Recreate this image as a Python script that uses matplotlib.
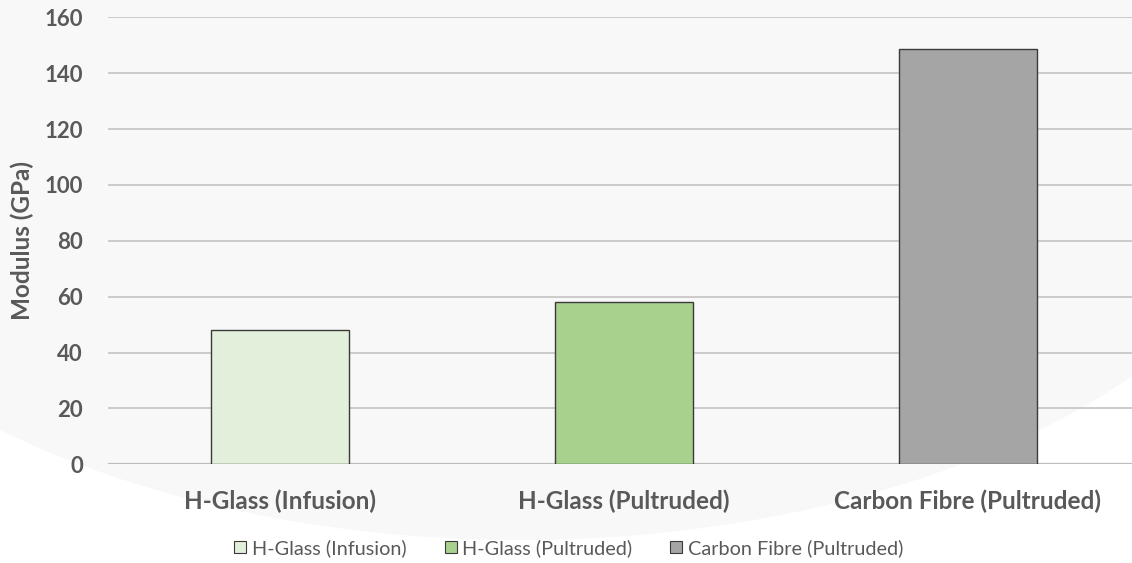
import matplotlib
matplotlib.use("Agg")
import matplotlib.pyplot as plt
from matplotlib.patches import Ellipse, Patch

categories = ["H-Glass (Infusion)", "H-Glass (Pultruded)", "Carbon Fibre (Pultruded)"]
modulus = [48, 58, 148.5]
bar_colors = ["#e2efda", "#a9d18e", "#a5a5a5"]
y_ticks = [0, 20, 40, 60, 80, 100, 120, 140, 160]

W, H, DPI = 1132, 563, 100
fig = plt.figure(figsize=(W / DPI, H / DPI), dpi=DPI, facecolor="white")

# soft grey backdrop shape
bg = Ellipse((520 / W, 463 / H), 1572 / W, 880 / H, transform=fig.transFigure,
             facecolor="#f8f8f8", edgecolor="none", zorder=-10)
fig.patches.append(bg)

ax = fig.add_axes([108 / W, 98.7 / H, 1032 / W, 447 / H])
ax.set_facecolor("none")

x = range(len(categories))
ax.bar(x, modulus, width=0.4, color=bar_colors, edgecolor="#3a3a3a",
       linewidth=1.0, zorder=3)

ax.set_xlim(-0.5, 2.5)
ax.set_ylim(0, 160)
ax.set_yticks(y_ticks)
ax.grid(axis="y", color="#cbcbcb", linewidth=1.4, zorder=0)
ax.axhline(0, color="#bdbdbd", linewidth=1.6, zorder=2)
for s in ax.spines.values():
    s.set_visible(False)

txt = "#595959"
ax.set_xticks(list(x))
ax.set_xticklabels(categories)
ax.tick_params(axis="both", length=0, colors=txt)
ax.tick_params(axis="y", pad=18)
ax.tick_params(axis="x", pad=18)
for lab in ax.get_yticklabels():
    lab.set_fontfamily("Lato")
    lab.set_fontweight("bold")
    lab.set_fontsize(16)
for lab in ax.get_xticklabels():
    lab.set_fontfamily("Lato")
    lab.set_fontweight("bold")
    lab.set_fontsize(17.5)

fig.text(22 / W, 1 - 241 / H, "Modulus (GPa)", rotation=90, ha="center",
         va="center", color=txt, fontfamily="Lato", fontweight="bold",
         fontsize=17.5)

handles = [Patch(facecolor=c, edgecolor="#3a3a3a", linewidth=0.8) for c in bar_colors]
fig.legend(handles, categories, loc="center", bbox_to_anchor=(569 / W, 1 - 548 / H),
           ncol=3, frameon=False, handlelength=0.6, handleheight=0.6,
           handletextpad=0.3, columnspacing=1.9,
           prop={"family": "Lato", "size": 14.3}, labelcolor=txt)

fig.savefig("out.png", dpi=DPI, facecolor="white")
